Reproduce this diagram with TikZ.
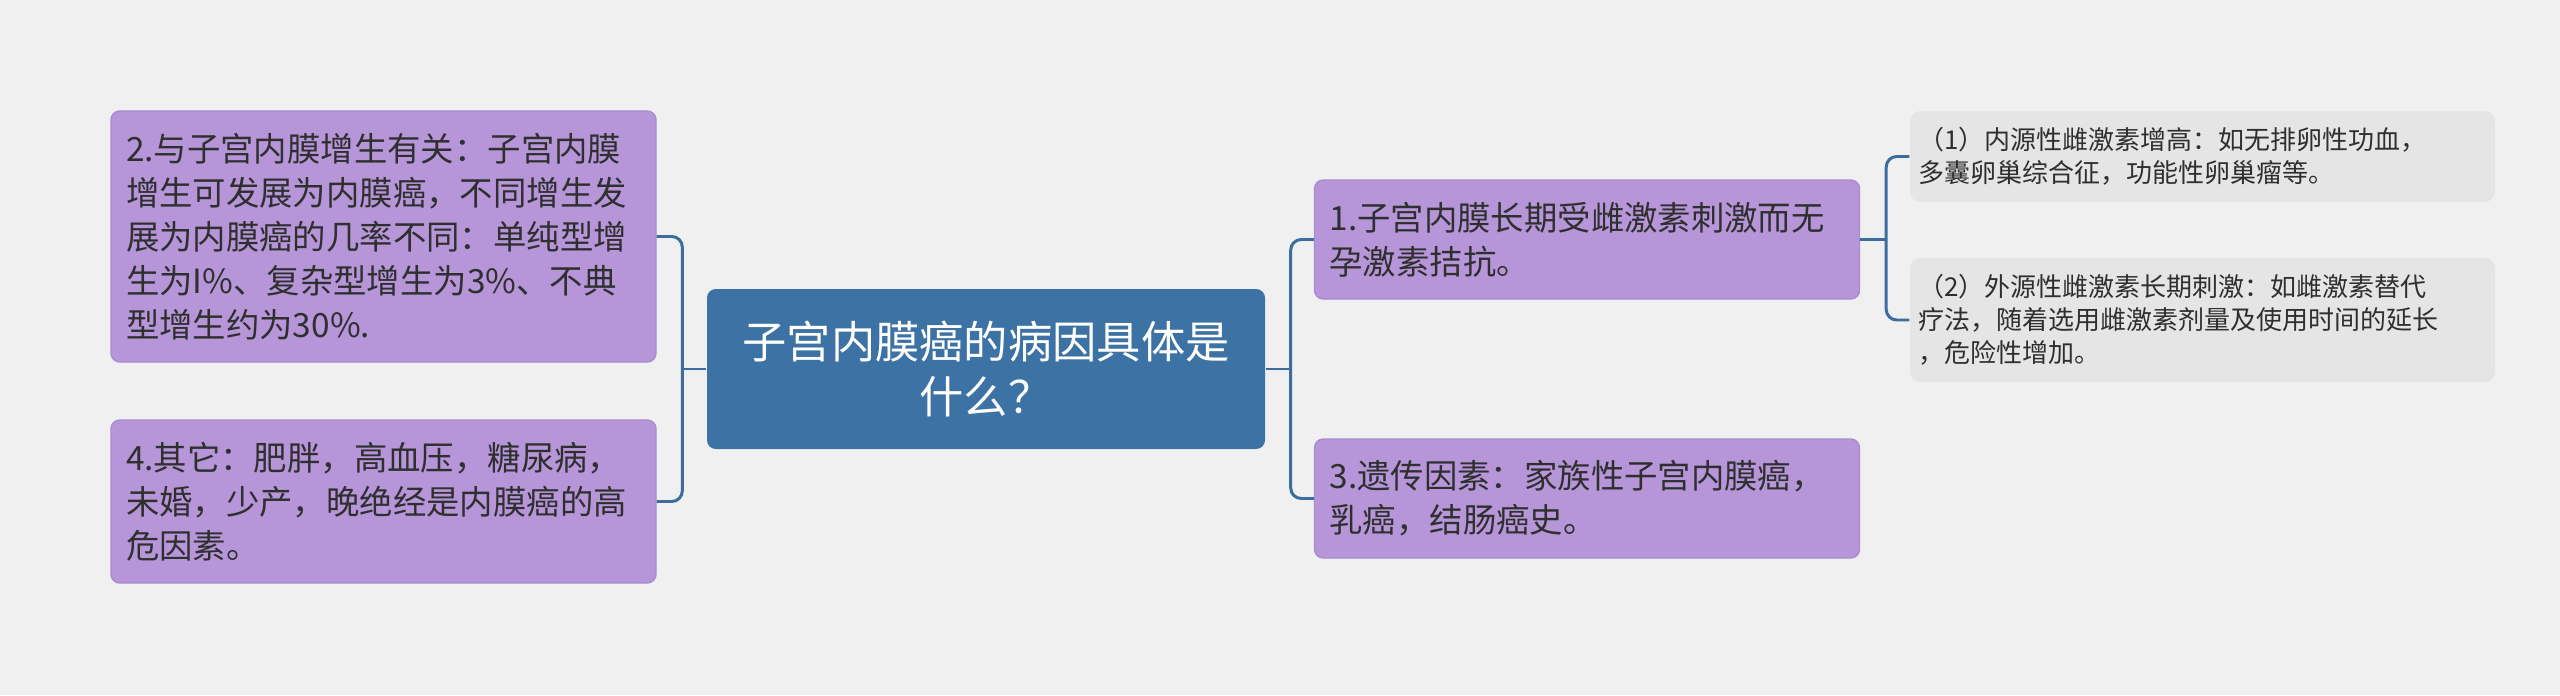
\documentclass[tikz,border=0pt]{standalone}
\usepackage{fontspec}
\newfontfamily\cjk{Noto Sans CJK SC}
\usetikzlibrary{positioning,calc}

\definecolor{bgcol}{HTML}{F0F0F0}
\definecolor{rootblue}{HTML}{3D72A4}
\definecolor{linkblue}{HTML}{3B6D9E}
\definecolor{topicpurple}{HTML}{B696D8}
\definecolor{topicedge}{HTML}{A98BCF}
\definecolor{subgray}{HTML}{E5E5E5}
\definecolor{inktext}{HTML}{2F2F2F}

\tikzset{
  root/.style={rectangle, rounded corners=2.5pt, fill=rootblue, text=white,
    minimum width=5.58cm, minimum height=1.6cm, align=center,
    font=\cjk\fontsize{12.6pt}{15.4pt}\selectfont},
  topic/.style={rectangle, rounded corners=2.5pt, fill=topicpurple, draw=topicedge,
    line width=0.4pt, text=inktext, inner xsep=0.15cm, text width=5.15cm,
    minimum width=5.45cm, align=left,
    font=\cjk\fontsize{9.5pt}{12.5pt}\selectfont},
  subtopic/.style={rectangle, rounded corners=3pt, fill=subgray, text=inktext,
    inner xsep=0.08cm, text width=5.69cm, minimum width=5.85cm, align=left,
    font=\cjk\fontsize{7.4pt}{9.4pt}\selectfont},
  link/.style={draw=linkblue, line width=0.85pt, rounded corners=3pt}
}

\begin{document}
\begin{tikzpicture}
\useasboundingbox (0,0) rectangle (25.6,6.95);
\fill[bgcol] (0,0) rectangle (25.6,6.95);

% root
\node[root] (root) at (9.86,3.26) {子宫内膜癌的病因具体是\\什么？};

% left topics
\node[topic, minimum height=2.51cm] (t2) at (3.835,4.585)
  {2.与子宫内膜增生有关：子宫内膜\\增生可发展为内膜癌，不同增生发\\展为内膜癌的几率不同：单纯型增\\生为I\%、复杂型增生为3\%、不典\\型增生约为30\%.};
\node[topic, minimum height=1.63cm] (t4) at (3.835,1.935)
  {4.其它：肥胖，高血压，糖尿病，\\未婚，少产，晚绝经是内膜癌的高\\危因素。};

% right topics
\node[topic, minimum height=1.19cm] (t1) at (15.87,4.555)
  {1.子宫内膜长期受雌激素刺激而无\\孕激素拮抗。};
\node[topic, minimum height=1.19cm] (t3) at (15.87,1.965)
  {3.遗传因素：家族性子宫内膜癌，\\乳癌，结肠癌史。};

% subtopics of 1
\node[subtopic, minimum height=0.91cm] (s1) at (22.025,5.385)
  {（1）内源性雌激素增高：如无排卵性功血，\\多囊卵巢综合征，功能性卵巢瘤等。};
\node[subtopic, minimum height=1.24cm] (s2) at (22.025,3.75)
  {（2）外源性雌激素长期刺激：如雌激素替代\\疗法，随着选用雌激素剂量及使用时间的延长\\，危险性增加。};

% connectors
\coordinate (lj) at ($(root.west)+(-0.24,0)$);
\coordinate (rj) at ($(root.east)+(0.25,0)$);
\coordinate (sj) at ($(t1.east)+(0.26,0)$);
\draw[link] (root.west) -- (lj);
\draw[link] (t2.east) -| (lj) |- (t4.east);
\draw[link] (root.east) -- (rj);
\draw[link] (t1.west) -| (rj) |- (t3.west);
\draw[link] (t1.east) -- (sj);
\draw[link] (s1.west) -| (sj) |- (s2.west);
\end{tikzpicture}
\end{document}
